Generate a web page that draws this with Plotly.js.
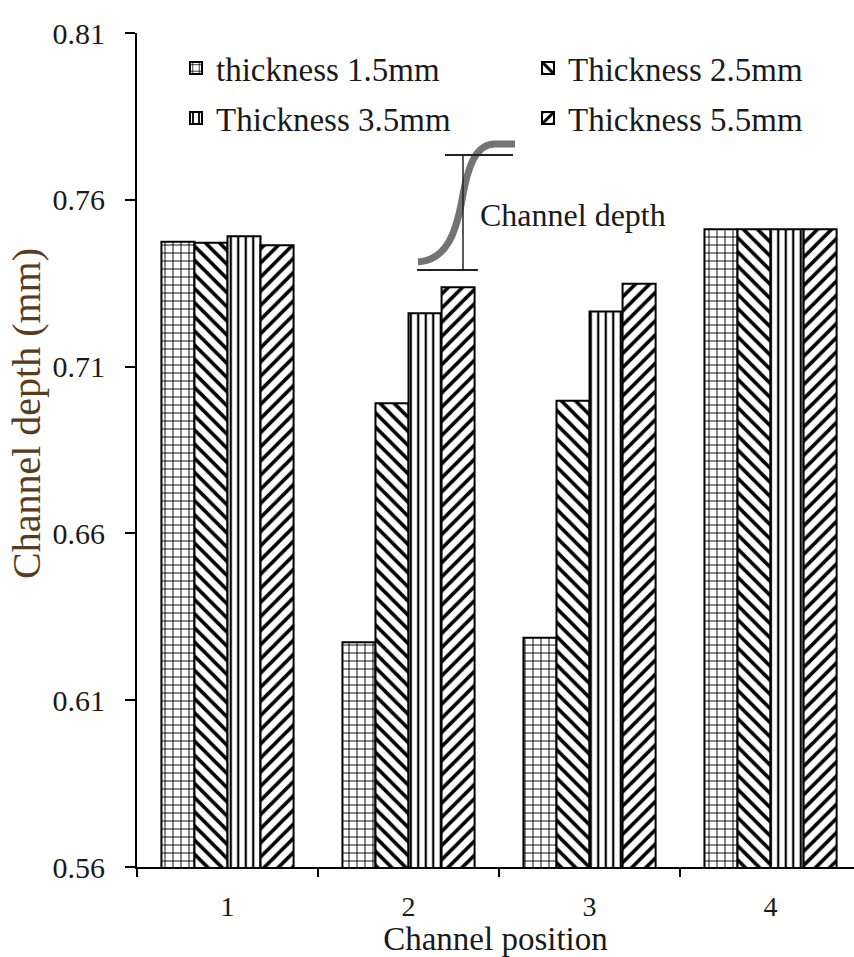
<!DOCTYPE html>
<html>
<head>
<meta charset="utf-8">
<script src="https://cdn.plot.ly/plotly-3.0.1.min.js"></script>
<style>html,body{margin:0;padding:0;background:#fff;}#chart{width:854px;height:957px;}</style>
</head>
<body>
<div id="chart"></div>
<script>
// ---- data ----
var categories = ['1', '2', '3', '4'];
var seriesNames = ['thickness 1.5mm', 'Thickness 2.5mm', 'Thickness 3.5mm', 'Thickness 5.5mm'];
var thick15 = [0.7474, 0.6274, 0.6287, 0.7512];
var thick25 = [0.7471, 0.6990, 0.6998, 0.7512];
var thick35 = [0.7491, 0.7260, 0.7265, 0.7512];
var thick55 = [0.7464, 0.7338, 0.7348, 0.7512];
var yTicks = [0.56, 0.61, 0.66, 0.71, 0.76, 0.81];

var FONT = 'Liberation Serif, Times New Roman, serif';
var TXT = '#1a1a1a';

// plot area in pixels (for decorative inset / legend placement only)
var L = 137, R = 854, T = 33, B = 867;
function px(x) { return (x - L) / (R - L); }
function py(y) { return 1 - (y - T) / (B - T); }

function barTrace(name, vals, shape, size, solidity, legendId) {
  return {
    type: 'bar', name: name, x: categories, y: vals,
    legend: legendId,
    marker: {
      color: 'white',
      line: {color: 'black', width: 2},
      pattern: {shape: shape, fgcolor: 'black', bgcolor: 'white', size: size, solidity: solidity, fillmode: 'replace'}
    }
  };
}

var data = [
  barTrace(seriesNames[0], thick15, '+', 8, 0.22, 'legend'),
  barTrace(seriesNames[1], thick25, '\\', 10, 0.36, 'legend2'),
  barTrace(seriesNames[2], thick35, '|', 7.5, 0.3, 'legend3'),
  barTrace(seriesNames[3], thick55, '/', 10, 0.36, 'legend4')
];

var curvePath = 'M' + px(418) + ',' + py(262) +
  ' C' + px(447) + ',' + py(260) + ' ' + px(456) + ',' + py(232) + ' ' + px(462) + ',' + py(200) +
  ' C' + px(468) + ',' + py(165) + ' ' + px(476) + ',' + py(144) + ' ' + px(495) + ',' + py(144) +
  ' L' + px(515) + ',' + py(144);

function legendAt(xpx, ypx) {
  return {
    x: px(xpx), y: py(ypx),
    orientation: 'v', xanchor: 'left', yanchor: 'middle',
    font: {family: FONT, size: 33, color: TXT},
    bgcolor: 'rgba(0,0,0,0)', borderwidth: 0,
    itemclick: false
  };
}

var layout = {
  width: 854, height: 957,
  margin: {l: L, r: 854 - R, t: T, b: 957 - B, pad: 0},
  paper_bgcolor: 'white', plot_bgcolor: 'white',
  barmode: 'group', bargap: 0.27, bargroupgap: 0,
  font: {family: FONT, color: TXT},
  showlegend: true,
  legend: legendAt(176, 68),
  legend2: legendAt(528, 68),
  legend3: legendAt(176, 118),
  legend4: legendAt(528, 118),
  xaxis: {
    type: 'category', range: [-0.5, 3.461],
    showline: true, linecolor: 'black', linewidth: 2,
    ticks: 'outside', tickson: 'boundaries', ticklen: 8, tickwidth: 2, tickcolor: 'black',
    tickfont: {family: FONT, size: 28, color: TXT},
    ticklabelstandoff: 13,
    showgrid: false, zeroline: false,
    title: {text: 'Channel position', font: {family: FONT, size: 33, color: TXT}, standoff: 11}
  },
  yaxis: {
    range: [0.56, 0.81], tickvals: yTicks, ticktext: yTicks.map(function(v){return v.toFixed(2);}),
    showline: true, linecolor: 'black', linewidth: 2,
    ticks: 'outside', ticklen: 10, tickwidth: 2, tickcolor: 'black',
    tickfont: {family: FONT, size: 30, color: TXT},
    ticklabelstandoff: 14,
    showgrid: false, zeroline: false
  },
  annotations: [
    {xref: 'paper', yref: 'paper', x: px(26), y: py(414), text: 'Channel depth (mm)', textangle: -90,
     showarrow: false, xanchor: 'center', yanchor: 'middle',
     font: {family: FONT, size: 40, color: '#5a3b1c'}},
    {xref: 'paper', yref: 'paper', x: px(478), y: py(215), text: 'Channel depth',
     showarrow: false, xanchor: 'left', yanchor: 'middle',
     font: {family: FONT, size: 32, color: TXT}}
  ],
  shapes: [
    {type: 'path', xref: 'paper', yref: 'paper', path: curvePath,
     line: {color: 'rgb(115,115,115)', width: 7}},
    {type: 'line', xref: 'paper', yref: 'paper', x0: px(445), x1: px(513), y0: py(155), y1: py(155),
     line: {color: '#222', width: 2}},
    {type: 'line', xref: 'paper', yref: 'paper', x0: px(417), x1: px(478), y0: py(270), y1: py(270),
     line: {color: '#222', width: 2}},
    {type: 'line', xref: 'paper', yref: 'paper', x0: px(463), x1: px(463), y0: py(155), y1: py(270),
     line: {color: '#222', width: 1.5}}
  ]
};

Plotly.newPlot('chart', data, layout, {displayModeBar: false, staticPlot: true});
</script>
</body>
</html>
